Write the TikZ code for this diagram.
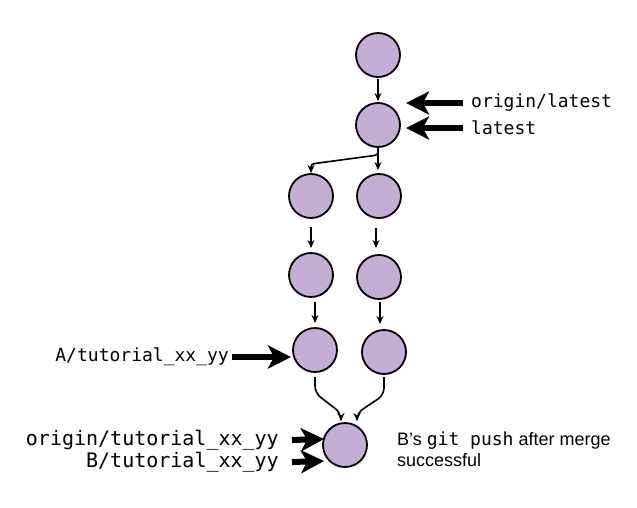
\documentclass[tikz,border=0pt]{standalone}
\usepackage{fontspec}
\setmainfont{Liberation Sans}
\setmonofont{DejaVu Sans Mono}
\usetikzlibrary{arrows.meta}
\begin{document}
\begin{tikzpicture}[x=1pt,y=-1pt,
  commit/.style={circle,draw=black,line width=1.8pt,fill=commitfill,minimum size=44pt,inner sep=0pt},
  small/.style={-{Stealth[length=8pt,width=7pt]},line width=1.6pt},
  thickarrow/.style={line width=6pt,arrows={-Stealth[length=23pt 0,width=23pt 0,inset=6pt 0]}},
  mono/.style={font=\fontsize{18}{21}\selectfont\ttfamily,inner sep=0pt},
  bigmono/.style={font=\fontsize{20}{23}\selectfont\ttfamily,inner sep=0pt},
  sans/.style={font=\fontsize{18}{21}\selectfont,inner sep=0pt,align=left}]
\definecolor{commitfill}{HTML}{C4AED5}
\useasboundingbox (0,0) rectangle (637,507);
\node[commit] (c1) at (378,55) {};
\node[commit] (c2) at (378,125) {};
\node[commit] (l1) at (311,196) {};
\node[commit] (r1) at (379,196) {};
\node[commit] (l2) at (311,275) {};
\node[commit] (r2) at (379,277) {};
\node[commit] (l3) at (315,350) {};
\node[commit] (r3) at (384,352) {};
\node[commit] (m) at (345,445) {};
% small arrows
\coordinate (a1s) at (378,79);  \coordinate (a1e) at (378,101);
\draw[small] (a1s) -- (a1e);
\coordinate (b0) at (378,148);
\coordinate (br) at (378,170);
\coordinate (bl) at (311,173);
\draw[small] (b0) -- (br);
\draw[small,rounded corners=3pt] (b0) -- (378,155) -- (311,164) -- (bl);
\coordinate (p1s) at (311,227); \coordinate (p1e) at (311,248);
\coordinate (q1s) at (376,228); \coordinate (q1e) at (376,248);
\coordinate (p2s) at (315,302); \coordinate (p2e) at (315,323);
\coordinate (q2s) at (380,302); \coordinate (q2e) at (380,324);
\draw[small] (p1s) -- (p1e);
\draw[small] (q1s) -- (q1e);
\draw[small] (p2s) -- (p2e);
\draw[small] (q2s) -- (q2e);
\coordinate (ms1) at (315,377);
\coordinate (ms2) at (384,377);
\coordinate (mt1) at (341,421);
\coordinate (mt2) at (357,421);
\draw[small,rounded corners=7pt] (ms1) -- (315,393) -- (341,413) -- (mt1);
\draw[small,rounded corners=7pt] (ms2) -- (384,395) -- (357,413) -- (mt2);
% labels
\node[mono,anchor=west] (ol) at (471,103) {origin/latest};
\node[mono,anchor=west] (la) at (471,128) {latest};
\coordinate (olt) at (406,103);
\coordinate (lat) at (406,128);
\draw[thickarrow] ([xshift=-8pt]ol.west) -- (olt);
\draw[thickarrow] ([xshift=-8pt]la.west) -- (lat);
\node[mono,anchor=east] (at) at (229,357) {A/tutorial\_xx\_yy};
\coordinate (att) at (291,357);
\draw[thickarrow] ([xshift=3pt]at.east) -- (att);
\node[bigmono,anchor=east] (ot) at (279,440) {origin/tutorial\_xx\_yy};
\node[bigmono,anchor=east] (bt) at (279,462) {B/tutorial\_xx\_yy};
\coordinate (ott) at (324,439);
\coordinate (btt) at (324,461);
\draw[thickarrow] ([xshift=13pt]ot.east) -- (ott);
\draw[thickarrow] ([xshift=13pt]bt.east) -- (btt);
\node[sans,anchor=north west] (note) at (397,432) {B’s \texttt{git}\hspace{0.6em}\texttt{push} after merge\\successful};
\end{tikzpicture}
\end{document}
